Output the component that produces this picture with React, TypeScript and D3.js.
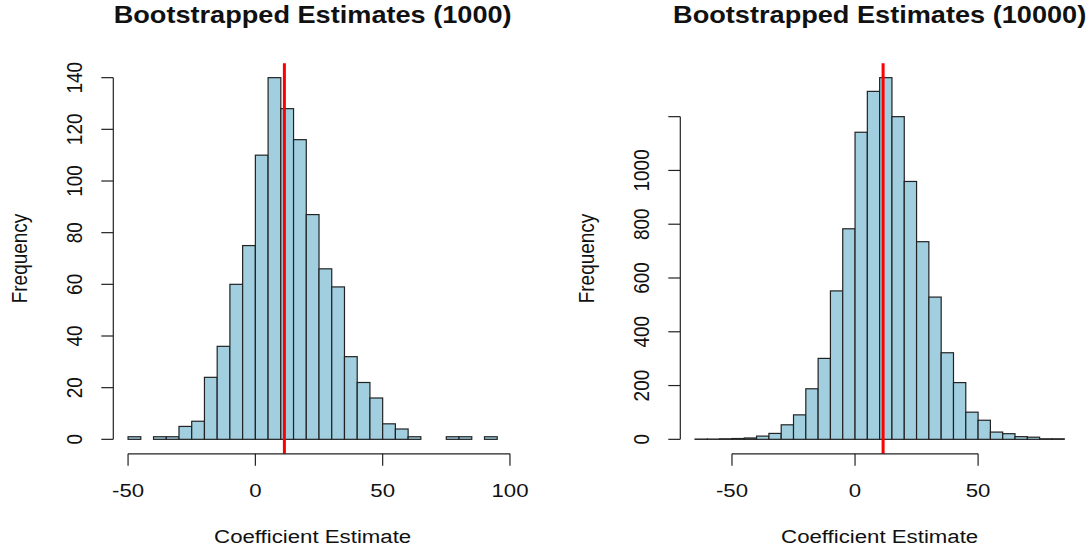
import { useEffect, useRef } from "react";
import * as d3 from "d3";

const WIDTH = 1090;
const HEIGHT = 550;
const BIN_WIDTH = 5;

// 1000 resamples: lower edge of each bin and its count
const binStarts1000 = [
  -50, -45, -40, -35, -30, -25, -20, -15, -10, -5, 0, 5, 10, 15, 20, 25, 30, 35,
  40, 45, 50, 55, 60, 65, 70, 75, 80, 85, 90,
];
const counts1000 = [
  1, 0, 1, 1, 5, 7, 24, 36, 60, 75, 110, 140, 128, 116, 87, 66, 59, 32, 22, 16,
  6, 4, 1, 0, 0, 1, 1, 0, 1,
];

// 10000 resamples
const binStarts10000 = [
  -65, -60, -55, -50, -45, -40, -35, -30, -25, -20, -15, -10, -5, 0, 5, 10, 15,
  20, 25, 30, 35, 40, 45, 50, 55, 60, 65, 70, 75, 80,
];
const counts10000 = [
  1, 1, 2, 3, 5, 12, 22, 54, 91, 188, 301, 552, 783, 1142, 1294, 1345, 1200,
  959, 735, 529, 322, 211, 101, 71, 27, 21, 10, 8, 2, 2,
];

const xTicks1000 = [-50, 0, 50, 100];
const yTicks1000 = [0, 20, 40, 60, 80, 100, 120, 140];
const yLabels1000 = ["0", "20", "40", "60", "80", "100", "120", "140"];
const xTicks10000 = [-50, 0, 50];
const yTicks10000 = [0, 200, 400, 600, 800, 1000, 1200];
const yLabels10000 = ["0", "200", "400", "600", "800", "1000", ""];

const estimate1000 = 11.4;
const estimate10000 = 11.4;

const titles = ["Bootstrapped Estimates (1000)", "Bootstrapped Estimates (10000)"];
const xTitle = "Coefficient Estimate";
const yTitle = "Frequency";

const FONT = "'Liberation Sans', Arial, Helvetica, sans-serif";
const STRETCH = 1.17; // the glyphs in the reference are a bit wide
const BAR_FILL = "#A1CFE0";
const INK = "#222";

type Panel = {
  title: string;
  bins: number[];
  counts: number[];
  xTicks: number[];
  yTicks: number[];
  yLabels: string[];
  estimate: number;
  left: number;
  right: number;
};

const panels: Panel[] = [
  {
    title: titles[0],
    bins: binStarts1000,
    counts: counts1000,
    xTicks: xTicks1000,
    yTicks: yTicks1000,
    yLabels: yLabels1000,
    estimate: estimate1000,
    left: 113.3,
    right: 512,
  },
  {
    title: titles[1],
    bins: binStarts10000,
    counts: counts10000,
    xTicks: xTicks10000,
    yTicks: yTicks10000,
    yLabels: yLabels10000,
    estimate: estimate10000,
    left: 680.3,
    right: 1079,
  },
];

// R pads the data range by 4% on each side
const pad = ([a, b]: [number, number]): [number, number] => {
  const d = (b - a) * 0.04;
  return [a - d, b + d];
};

const App = () => {
  const svgRef = useRef<SVGSVGElement>(null);

  useEffect(() => {
    if (!svgRef.current) return;
    const svg = d3.select(svgRef.current);
    svg.selectAll("*").remove();

    const top = 63.2;
    const bottom = 453.8;
    const axisY = bottom;

    const addText = (
      g: d3.Selection<SVGGElement, unknown, null, undefined>,
      x: number,
      y: number,
      txt: string,
      size: number,
      opts: { bold?: boolean; rotate?: boolean } = {}
    ) => {
      g.append("text")
        .attr(
          "transform",
          `translate(${x},${y}) scale(${STRETCH},1)${opts.rotate ? " rotate(-90)" : ""}`
        )
        .attr("text-anchor", "middle")
        .attr("font-family", FONT)
        .attr("font-size", size)
        .attr("font-weight", opts.bold ? "bold" : "normal")
        .attr("fill", "#111")
        .text(txt);
    };

    panels.forEach((p) => {
      const g = svg.append("g");
      const last = p.bins[p.bins.length - 1] + BIN_WIDTH;
      const x = d3
        .scaleLinear()
        .domain(pad([p.bins[0], last]))
        .range([p.left, p.right]);
      const y = d3
        .scaleLinear()
        .domain(pad([0, d3.max(p.counts) ?? 0]))
        .range([bottom, top]);

      // barres de l'histogramme
      g.selectAll("rect.bar")
        .data(p.bins.map((b, i) => ({ b, c: p.counts[i] })))
        .enter()
        .append("rect")
        .attr("class", "bar")
        .attr("x", (d) => x(d.b))
        .attr("width", (d) => x(d.b + BIN_WIDTH) - x(d.b))
        .attr("y", (d) => y(d.c))
        .attr("height", (d) => y(0) - y(d.c))
        .attr("fill", BAR_FILL)
        .attr("stroke", INK)
        .attr("stroke-width", 1.2);

      // estimate line
      g.append("line")
        .attr("x1", x(p.estimate))
        .attr("x2", x(p.estimate))
        .attr("y1", top)
        .attr("y2", bottom)
        .attr("stroke", "#FF0000")
        .attr("stroke-width", 3);

      // x axis
      const xa = g.append("g").attr("stroke", INK).attr("stroke-width", 1.2);
      xa.append("line")
        .attr("x1", x(p.xTicks[0]))
        .attr("x2", x(p.xTicks[p.xTicks.length - 1]))
        .attr("y1", axisY)
        .attr("y2", axisY);
      p.xTicks.forEach((t) => {
        xa.append("line")
          .attr("x1", x(t))
          .attr("x2", x(t))
          .attr("y1", axisY)
          .attr("y2", axisY + 12);
        addText(g, x(t), 497, String(t), 19);
      });

      // y axis
      const ya = g.append("g").attr("stroke", INK).attr("stroke-width", 1.2);
      ya.append("line")
        .attr("x1", p.left)
        .attr("x2", p.left)
        .attr("y1", y(p.yTicks[0]))
        .attr("y2", y(p.yTicks[p.yTicks.length - 1]));
      p.yTicks.forEach((t, i) => {
        ya.append("line")
          .attr("x1", p.left)
          .attr("x2", p.left - 12)
          .attr("y1", y(t))
          .attr("y2", y(t));
        if (p.yLabels[i]) addText(g, p.left - 31.5, y(t), p.yLabels[i], 19, { rotate: true });
      });

      // titles
      const cx = (p.left + p.right) / 2;
      addText(g, cx, 23, p.title, 23.2, { bold: true });
      addText(g, cx, 543, xTitle, 19);
      addText(g, p.left - 86, (top + bottom) / 2, yTitle, 19, { rotate: true });
    });
  }, []);

  return (
    <svg
      ref={svgRef}
      width={WIDTH}
      height={HEIGHT}
      style={{ position: "absolute", left: 0, top: 0, background: "#fff" }}
    ></svg>
  );
};

export default App;
